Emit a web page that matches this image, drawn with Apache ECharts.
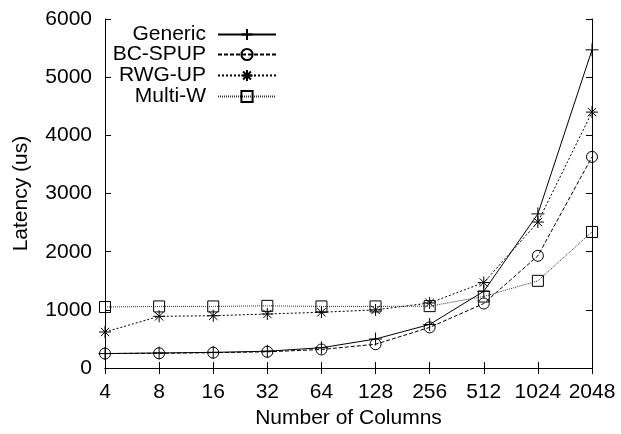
<!DOCTYPE html>
<html>
<head>
<meta charset="utf-8">
<script src="https://cdn.jsdelivr.net/npm/echarts@6/dist/echarts.min.js"></script>
<style>
  html, body { margin: 0; padding: 0; background: #fff; }
  #chart { width: 621px; height: 434px; }
</style>
</head>
<body>
<div id="chart"></div>
<script>
var columns = ['4', '8', '16', '32', '64', '128', '256', '512', '1024', '2048'];
var generic = [250, 260, 270, 290, 350, 500, 750, 1320, 2650, 5470];
var bcSpup  = [250, 255, 265, 280, 320, 410, 700, 1110, 1930, 3630];
var rwgUp   = [620, 890, 900, 930, 960, 1000, 1120, 1470, 2510, 4400];
var multiW  = [1050, 1060, 1060, 1070, 1060, 1060, 1065, 1230, 1500, 2340];
var yTicks  = [0, 6000, 1000];   // min, max, step

var FONT = "'Liberation Sans', Arial, sans-serif";
var FS = 21;

var PLUS = 'path://M5,0L5,10M0,5L10,5';
var CIRCLE = 'path://M10,5A5,5,0,1,1,0,5A5,5,0,1,1,10,5Z';
var STAR = 'path://M5,0L5,10M0,5L10,5M1.5,1.5L8.5,8.5M1.5,8.5L8.5,1.5';
var SQUARE = 'path://M0,0L10,0L10,10L0,10Z';

function mkSeries(name, data, symbol, size, dash, col) {
    return {
        name: name,
        type: 'line',
        data: data,
        symbol: symbol,
        symbolSize: size,
        showAllSymbol: true,
        animation: false,
        lineStyle: { color: col, width: 1, type: dash },
        itemStyle: { color: 'none', borderColor: '#000', borderWidth: 1 }
    };
}

function mkLegend(name, top) {
    return {
        data: [name],
        right: 344,
        top: top,
        padding: 0,
        align: 'right',
        itemWidth: 58,
        itemHeight: 14,
        selectedMode: false,
        textStyle: { fontFamily: FONT, fontSize: FS, color: '#000', padding: [0, 7, 0, 0] }
    };
}

var axisLine = { show: true, lineStyle: { color: '#000', width: 1 } };
var tick = { show: true, inside: true, length: 6, lineStyle: { color: '#000' } };

var myChart = echarts.init(document.getElementById('chart'));

var option = {
    backgroundColor: '#fff',
    animation: false,
    grid: { left: 105, right: 29, top: 19, bottom: 62 },
    legend: [
        mkLegend('Generic', 24),
        mkLegend('BC-SPUP', 44),
        mkLegend('RWG-UP', 65),
        mkLegend('Multi-W', 86)
    ],
    xAxis: [{
        type: 'category',
        data: columns,
        boundaryGap: false,
        name: 'Number of Columns',
        nameLocation: 'middle',
        nameGap: 37,
        nameTextStyle: { fontFamily: FONT, fontSize: FS, color: '#000' },
        axisLine: axisLine,
        axisTick: tick,
        axisLabel: {
            fontFamily: FONT, fontSize: FS, color: '#000', margin: 14,
            interval: 0, hideOverlap: false
        },
        splitLine: { show: false }
    }, {
        type: 'category',
        data: columns,
        boundaryGap: false,
        position: 'top',
        axisLine: axisLine,
        axisTick: { show: true, inside: true, length: 6, interval: 0, lineStyle: { color: '#000' } },
        axisLabel: { show: false, interval: 0 },
        splitLine: { show: false }
    }],
    yAxis: [{
        type: 'value',
        min: yTicks[0],
        max: yTicks[1],
        interval: yTicks[2],
        name: 'Latency (us)',
        nameLocation: 'middle',
        nameGap: 73,
        nameTextStyle: { fontFamily: FONT, fontSize: FS, color: '#000' },
        axisLine: axisLine,
        axisTick: tick,
        axisLabel: {
            fontFamily: FONT, fontSize: FS, color: '#000', margin: 13,
            formatter: function (v) { return String(v); }
        },
        splitLine: { show: false }
    }, {
        type: 'value',
        min: yTicks[0],
        max: yTicks[1],
        interval: yTicks[2],
        position: 'right',
        axisLine: axisLine,
        axisTick: tick,
        axisLabel: { show: false },
        splitLine: { show: false }
    }],
    series: [
        mkSeries('Generic', generic, PLUS, 13, 'solid', '#000'),
        mkSeries('BC-SPUP', bcSpup, CIRCLE, 11, [4, 2], '#000'),
        mkSeries('RWG-UP', rwgUp, STAR, 12, [2, 2], '#000'),
        mkSeries('Multi-W', multiW, SQUARE, 11, [1, 1], '#333')
    ]
};

myChart.setOption(option);
</script>
</body>
</html>
